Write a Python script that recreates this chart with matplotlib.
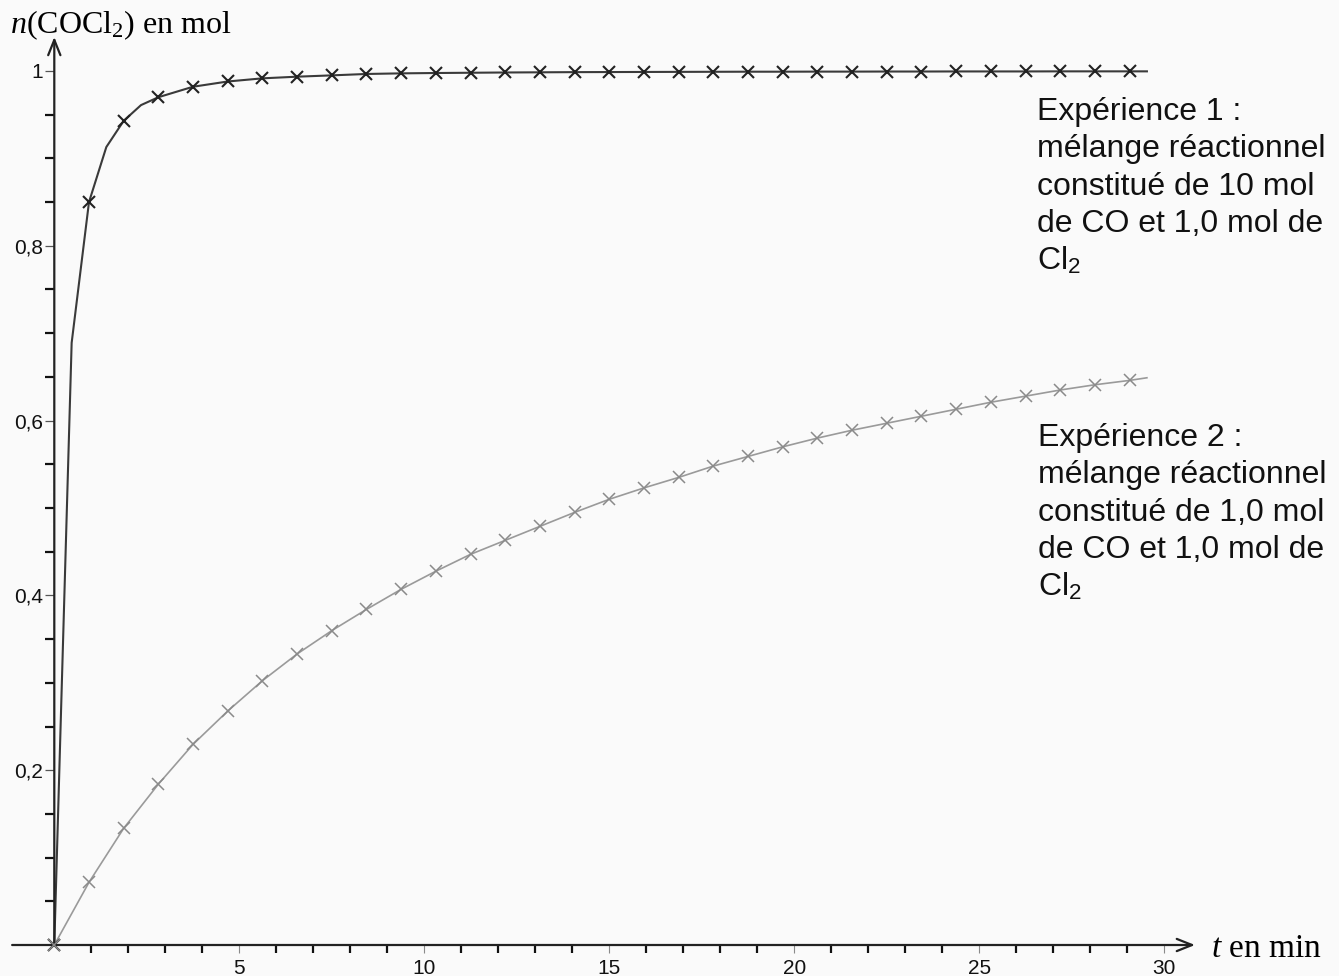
import numpy as np
import matplotlib
matplotlib.use("Agg")
import matplotlib.pyplot as plt
from matplotlib.ticker import FixedLocator, NullFormatter

plt.rcParams["mathtext.fontset"] = "custom"
plt.rcParams["mathtext.rm"] = "Liberation Serif"
plt.rcParams["mathtext.it"] = "Liberation Serif:italic"
plt.rcParams["mathtext.sf"] = "Liberation Sans"

# ---------------- data ----------------
t_step = 0.9375                      # min between two crosses
t_markers = np.arange(32) * t_step   # times of the crosses
t_end = 29.53                        # last point of the curves

# Expérience 1 : 10 mol CO + 1,0 mol Cl2
n_exp1 = [0.0, 0.850, 0.943, 0.970, 0.982, 0.988, 0.9916, 0.9935, 0.995, 0.9966,
          0.9973, 0.9977, 0.998, 0.9983, 0.9985, 0.9987, 0.9988, 0.9989, 0.999, 0.9991,
          0.9992, 0.9992, 0.9993, 0.9993, 0.9994, 0.9994, 0.9995, 0.9995, 0.9995, 0.9996,
          0.9996, 0.9996]
exp1_mid_t = [0.469, 1.406, 2.344]
exp1_mid_n = [0.689, 0.913, 0.961]
n_exp1_end = 0.9996

# Expérience 2 : 1,0 mol CO + 1,0 mol Cl2
n_exp2 = [0.0, 0.0717, 0.1335, 0.184, 0.2296, 0.2677, 0.3024, 0.333, 0.3597, 0.384,
          0.407, 0.4277, 0.447, 0.463, 0.479, 0.495, 0.510, 0.523, 0.535, 0.548,
          0.559, 0.570, 0.580, 0.589, 0.597, 0.605, 0.613, 0.621, 0.628, 0.635,
          0.641, 0.646]
n_exp2_end = 0.649

x_major = [5, 10, 15, 20, 25, 30]
x_minor = [i for i in range(1, 31) if i % 5 != 0]
y_major = [0.2, 0.4, 0.6, 0.8, 1.0]
y_major_labels = ["0,2", "0,4", "0,6", "0,8", "1"]
y_minor = [0.05, 0.1, 0.15, 0.25, 0.3, 0.35, 0.45, 0.5, 0.55, 0.65, 0.7, 0.75,
           0.85, 0.9, 0.95]

text_exp1 = ["Expérience 1 :", "mélange réactionnel", "constitué de 10 mol",
             "de CO et 1,0 mol de", r"Cl$_\mathsf{2}$"]
text_exp2 = ["Expérience 2 :", "mélange réactionnel", "constitué de 1,0 mol",
             "de CO et 1,0 mol de", r"Cl$_\mathsf{2}$"]

# ---------------- figure ----------------
W, H = 1339, 976
fig = plt.figure(figsize=(W / 100, H / 100), dpi=100)
fig.patch.set_facecolor("white")
ax = fig.add_axes([0, 0, 1, 1])
ax.set_facecolor("#fafafa")

# pixel geometry of the axes (origin and scale)
x0_px, px_per_min = 54.3, 37.0
y0_px, px_per_mol = 945.0, 874.0
ax.set_xlim(-x0_px / px_per_min, (W - x0_px) / px_per_min)
ax.set_ylim(-(H - y0_px) / px_per_mol, y0_px / px_per_mol)

for s in ax.spines.values():
    s.set_visible(False)
ax.spines["left"].set_position(("data", 0))
ax.spines["bottom"].set_position(("data", 0))

# curves
l1_t = np.concatenate([t_markers, exp1_mid_t, [t_end]])
l1_n = np.concatenate([n_exp1, exp1_mid_n, [n_exp1_end]])
order = np.argsort(l1_t)
ax.plot(l1_t[order], l1_n[order], color="#3a3a3a", lw=1.5, zorder=3)
ax.plot(t_markers, n_exp1, ls="none", marker="x", ms=8, mew=1.5,
        color="#222222", zorder=4)

l2_t = np.concatenate([t_markers, [t_end]])
l2_n = np.concatenate([n_exp2, [n_exp2_end]])
ax.plot(l2_t, l2_n, color="#9a9a9a", lw=1.2, zorder=3)
ax.plot(t_markers, n_exp2, ls="none", marker="x", ms=8, mew=1.1,
        color="#8a8a8a", zorder=4)

# axes with arrows
arrow_kw = dict(arrowstyle="->,head_length=0.55,head_width=0.22", lw=1.6,
                color="#222222", shrinkA=0, shrinkB=0, mutation_scale=20)
ax.annotate("", xy=(30.83, 0), xytext=(-1.14, 0), arrowprops=arrow_kw)
ax.annotate("", xy=(0, 1.039), xytext=(0, 0), arrowprops=arrow_kw)

# ticks
ax.xaxis.set_major_locator(FixedLocator(x_major))
ax.xaxis.set_minor_locator(FixedLocator(x_minor))
ax.yaxis.set_major_locator(FixedLocator(y_major))
ax.yaxis.set_minor_locator(FixedLocator(y_minor))
ax.set_xticklabels([str(v) for v in x_major])
ax.set_yticklabels(y_major_labels)
ax.yaxis.set_minor_formatter(NullFormatter())
ax.tick_params(axis="x", which="major", direction="out", length=6, width=0.8,
               color="#8a8a8a", labelsize=15, pad=4, labelcolor="#111111")
ax.tick_params(axis="x", which="minor", direction="out", length=6, width=1.6,
               color="#111111")
ax.tick_params(axis="y", which="major", direction="out", length=6.5, width=0.9,
               color="#555555", labelsize=15, pad=1.5, labelcolor="#111111")
ax.tick_params(axis="y", which="minor", direction="out", length=6.5, width=1.6,
               color="#111111")
for lab in ax.get_xticklabels() + ax.get_yticklabels():
    lab.set_fontfamily("Liberation Sans")

# axis titles
ax.text(10 / W, 1 - 25 / H, r"$n(\mathrm{COCl}_2)$ en mol", transform=ax.transAxes,
        ha="left", va="center", fontsize=23, family="Liberation Serif")
ax.text(1211 / W, 1 - 949 / H, r"$t$ en min", transform=ax.transAxes,
        ha="left", va="center", fontsize=24, family="Liberation Serif")

# annotations
def block(lines, x_px, base_px, pitch_px):
    for i, s in enumerate(lines):
        ax.text(x_px / W, 1 - (base_px + i * pitch_px) / H, s, transform=ax.transAxes,
                ha="left", va="baseline", fontsize=23, family="Liberation Sans",
                color="#111111")

block(text_exp1, 1037, 120, 37.5)
block(text_exp2, 1038, 446, 37.5)

fig.savefig("out.png", dpi=100, facecolor=fig.get_facecolor())
